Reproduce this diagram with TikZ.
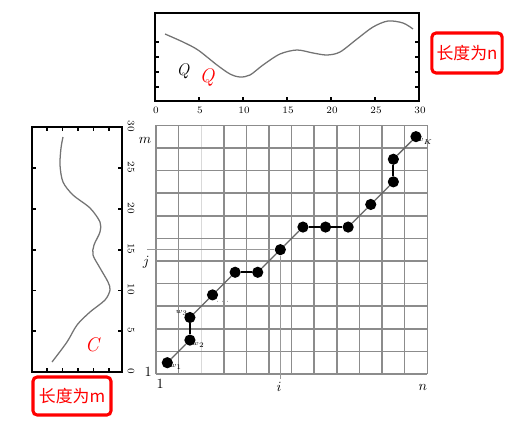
\documentclass[tikz,border=0pt]{standalone}
\usepackage{fontspec}
\newfontfamily\cjkfont{Noto Sans CJK SC}
\usepackage{tikz}
\usetikzlibrary{positioning}

\tikzset{
  panel/.style={line width=1.1pt},
  seqcurve/.style={black!55, line width=0.9pt},
  gridline/.style={black!45, line width=1.1pt},
  faintline/.style={black!15, line width=0.8pt},
  guide/.style={black!40, line width=0.6pt},
  warp/.style={black!60, line width=0.9pt},
  flat/.style={black, line width=1.3pt},
  pt/.style={circle, fill=black, inner sep=0pt, minimum size=2.8mm},
  tinylab/.style={font=\fontsize{5}{5}\selectfont, inner sep=0.3pt},
  ticklab/.style={font=\scriptsize, inner sep=1pt},
  redbox/.style={draw=red, line width=2.2pt, rounded corners=3pt, text=red,
                 font=\cjkfont\fontsize{12}{12}\selectfont},
  redmark/.style={text=red, font=\itshape\fontsize{14}{14}\selectfont},
}

\begin{document}
\begin{tikzpicture}[x=0.025cm, y=-0.025cm]
  \useasboundingbox (0,0) rectangle (505,422);

  % top sequence Q
  \draw[panel] (155,13) rectangle (419,101);
  \foreach \y in {42,57,72,87} {
    \draw[panel] (155,\y) -- (159,\y);
    \draw[panel] (419,\y) -- (415,\y);
  }
  \foreach \v in {5,10,...,25}
    \draw[panel] ({155+8.8*\v},101) -- ({155+8.8*\v},97);
  \foreach \v in {0,5,...,30}
    \node[ticklab] at ({156+8.8*\v},110) {\v};
  \draw[seqcurve] plot[smooth] coordinates {(165,34) (183,42) (198,50) (217,65)
    (230,74) (240,77) (250,75) (263,65) (280,54) (297,50) (313,53) (327,55)
    (340,52) (357,39) (373,27) (388,21) (403,23) (413,29)};
  \node[font=\large\itshape] (qlab) at (183,71) {Q};
  \node[redmark] (qred) at (207,77) {Q};
  \node[redbox, minimum width=1.75cm, minimum height=1cm] (lenn) at (467,53) {长度为n};

  % left sequence C
  \draw[panel] (32,127) rectangle (122,372);
  \foreach \v in {5,10,...,25} {
    \draw[panel] (32,{372-8.15*\v}) -- (36,{372-8.15*\v});
    \draw[panel] (122,{372-8.15*\v}) -- (118,{372-8.15*\v});
  }
  \foreach \x in {47,62.5,78,93.5,109} {
    \draw[panel] (\x,127) -- (\x,131);
    \draw[panel] (\x,372) -- (\x,368);
  }
  \foreach \v in {0,5,...,30}
    \node[ticklab, rotate=-90] at (131,{371-8.15*\v}) {\v};
  \draw[seqcurve] plot[smooth] coordinates {(63,137) (61,148) (60,165) (63,182)
    (73,195) (90,208) (100,222) (100,232) (94,245) (93,255) (100,268) (108,282)
    (110,290) (105,300) (90,312) (77,325) (67,342) (52,362)};
  \node[redmark] (cred) at (92,345) {C};
  \node[redbox, minimum width=1.95cm, minimum height=0.95cm] (lenm) at (72,396) {长度为m};

  % warping grid
  \begin{scope}[shift={(156,374)}, x=0.565cm, y=0.565cm]
    \foreach \c in {0,1,3,4,...,12}
      \draw[gridline] (\c,0) -- (\c,11);
    \draw[faintline] (2,0) -- (2,11);
    \foreach \r in {0,...,11}
      \draw[gridline] (0,\r) -- (12,\r);

    \foreach \c/\r [count=\k] in {0/0,1/1,1/2,2/3,3/4,4/4,5/5,6/6,7/6,8/6,9/7,10/8,10/9,11/10}
      \node[pt] (w\k) at (\c+0.5,\r+0.5) {};

    \coordinate (jend) at (-0.4,5.5);
    \coordinate (iend) at (5.5,-0.2);
    \draw[guide] (w7) -- (jend);
    \draw[guide] (w7) -- (iend);

    \foreach \a/\b in {1/2,3/4,4/5,6/7,7/8,10/11,11/12,13/14}
      \draw[warp] (w\a) -- (w\b);
    \foreach \a/\b in {2/3,5/6,8/9,9/10,12/13}
      \draw[flat] (w\a) -- (w\b);

    \node[tinylab, below right=-2pt and -2pt of w1] (w1lab) {$w_1$};
    \node[tinylab, below right=-2pt and -2pt of w2] (w2lab) {$w_2$};
    \node[tinylab, above left=-2pt and -2pt of w3] (w3lab) {$w_3$};
    \node[tinylab, below right=0pt and -1pt of w4] (w4lab) {$\cdots$};
    \node[tinylab, below right=-2pt and -3pt of w14] (w14lab) {$w_K$};

    \node (mlab) at (-0.49,10.35) {$m$};
    \node (jlab) at (-0.44,4.96) {$j$};
    \node (onej) at (-0.35,0.1) {1};
    \node (onei) at (0.18,-0.45) {1};
    \node (ilab) at (5.44,-0.58) {$i$};
    \node (nlab) at (11.8,-0.58) {$n$};
  \end{scope}
\end{tikzpicture}
\end{document}
